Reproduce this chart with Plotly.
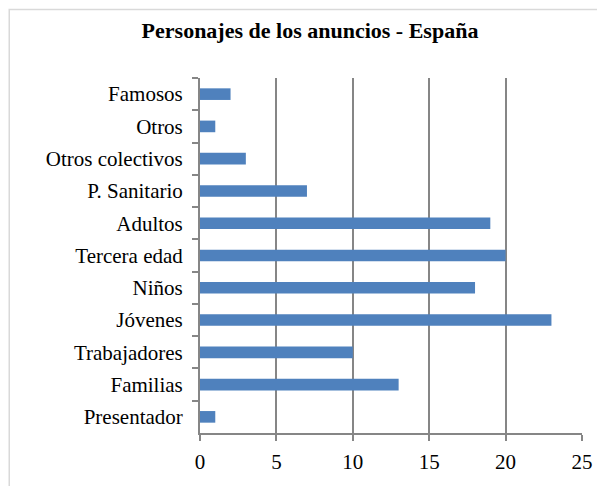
import plotly.graph_objects as go

categories = ["Famosos", "Otros", "Otros colectivos", "P. Sanitario", "Adultos",
              "Tercera edad", "Niños", "Jóvenes", "Trabajadores", "Familias", "Presentador"]
values = [2, 1, 3, 7, 19, 20, 18, 23, 10, 13, 1]
x_ticks = [0, 5, 10, 15, 20, 25]

# page has an 8px body margin, so the figure starts at (8, 8)
W, H = 597, 478
L, R, T, B = 192, 22, 70, 49
pw, ph = W - L - R, H - T - B

fig = go.Figure()
fig.add_trace(go.Bar(
    y=categories, x=values, orientation="h",
    marker=dict(color="#4F81BD", line=dict(width=0)),
    width=0.36,
))

font_family = "Liberation Serif"
fig.update_layout(
    width=W, height=H,
    margin=dict(l=L, r=R, t=T, b=B),
    paper_bgcolor="white", plot_bgcolor="white",
    showlegend=False,
    title=dict(text="<b>Personajes de los anuncios - España</b>",
               x=(310 - 8) / W, xref="container", xanchor="center",
               y=1 - (30 - 8) / H, yref="container", yanchor="middle",
               font=dict(family=font_family, size=22, color="black")),
    font=dict(family=font_family, size=21, color="black"),
    shapes=[dict(type="rect", xref="paper", yref="paper",
                 x0=(0.75 - L) / pw, x1=(W + 20 - L) / pw,
                 y0=-(B + 20) / ph, y1=(T + ph - 0.75) / ph,
                 line=dict(color="#D9D9D9", width=1.5), layer="below")],
)
fig.update_xaxes(
    range=[0, 25], tickvals=x_ticks, ticktext=[str(v) for v in x_ticks],
    showgrid=True, gridcolor="#868686", gridwidth=2,
    showline=True, linecolor="#868686", linewidth=2,
    ticks="outside", ticklen=6, tickcolor="#868686", tickwidth=2,
    ticklabelstandoff=3, zeroline=False,
    tickfont=dict(family=font_family, size=21, color="black"),
)
fig.update_yaxes(
    type="category", autorange="reversed",
    categoryorder="array", categoryarray=categories,
    showline=True, linecolor="#868686", linewidth=2,
    ticks="outside", ticklen=6, tickcolor="#868686", tickwidth=2,
    tickson="boundaries", ticklabelstandoff=11,
    showgrid=False,
    tickfont=dict(family=font_family, size=21, color="black"),
)

fig.write_html("out.html")
